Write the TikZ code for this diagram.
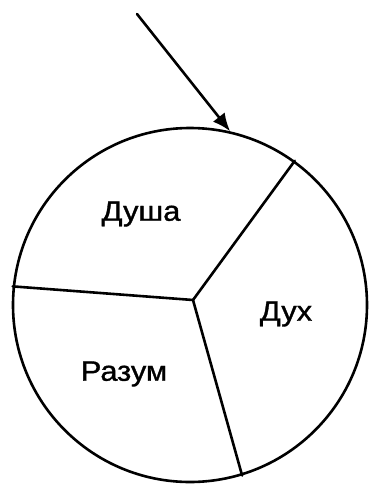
\documentclass[tikz,border=0pt]{standalone}
\usepackage{fontspec}
\newfontfamily\lblfont{Liberation Sans}[FakeBold=1.2,FakeStretch=1.1]
\usetikzlibrary{arrows.meta}
\begin{document}
\begin{tikzpicture}[x=1pt,y=-1pt,
  ln/.style={line width=2.6pt,line cap=round},
  lbl/.style={font=\lblfont\fontsize{28}{32}\selectfont,inner sep=0pt}]
\useasboundingbox (0,0) rectangle (368,485);
\node[ln,draw,circle,minimum size=354pt,inner sep=0pt] (c) at (190,305) {};
\coordinate (hub) at (193,300);
\draw[ln] (hub) -- (c.54.9);
\draw[ln] (hub) -- (c.174.2);
\draw[ln] (hub) -- (c.-73);
\coordinate (start) at (137,14);
\draw[ln,-{Latex[length=18pt,width=15pt]}] (start) -- (c.77.5);
\node[lbl] (dusha) at (141,214) {Душа};
\node[lbl] (dukh) at (286,314) {Дух};
\node[lbl] (razum) at (124,374) {Разум};
\end{tikzpicture}
\end{document}
